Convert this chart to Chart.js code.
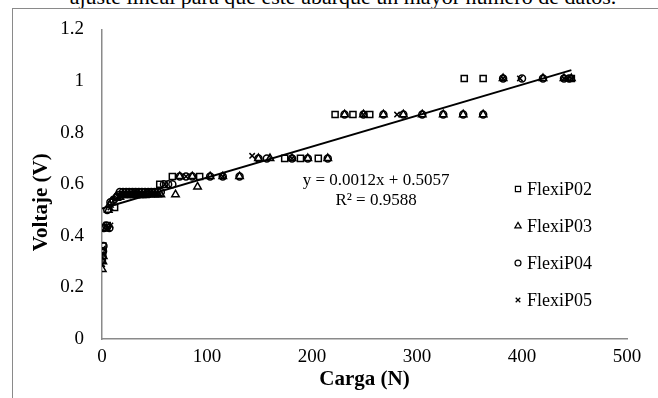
<!DOCTYPE html>
<html>
<head>
<meta charset="utf-8">
<script src="https://cdn.jsdelivr.net/npm/chart.js@4/dist/chart.umd.min.js"></script>
<style>
  html, body { margin: 0; padding: 0; background: #fff; }
  body { width: 658px; height: 398px; position: relative; overflow: hidden; }
  #caption {
    position: absolute; left: 14px; width: 658px; top: -16px;
    text-align: center; font-family: "Liberation Serif", serif; font-size: 22px;
    color: #000; white-space: nowrap; line-height: 26px;
  }
  #frame {
    position: absolute; left: 12px; top: 8px; right: -2px; bottom: -2px;
    border-left: 1px solid #8a8a8a; border-top: 1px solid #8a8a8a;
  }
  #wrap { position: absolute; left: 0; top: 0; width: 658px; height: 398px; }
</style>
</head>
<body>
<div id="caption">ajuste lineal para que este abarque un mayor número de datos.</div>
<div id="frame"></div>
<div id="wrap"><canvas id="c" width="658" height="398"></canvas></div>
<script>
// Carga (N) and voltaje (V) readings for each FlexiForce sensor
const carga02 = [0.3, 0.6, 0.9, 2, 5, 12, 15, 18, 21, 24, 27, 30, 33, 36, 39, 42, 45, 48, 55, 67, 93, 174, 189, 206, 222, 239, 255, 345, 363, 447];
const volt02  = [0.31, 0.34, 0.36, 0.43, 0.44, 0.51, 0.55, 0.56, 0.56, 0.56, 0.56, 0.56, 0.56, 0.56, 0.56, 0.56, 0.57, 0.57, 0.60, 0.63, 0.63, 0.70, 0.70, 0.70, 0.87, 0.87, 0.87, 1.01, 1.01, 1.01];

const carga03 = [0.3, 0.8, 1.2, 4, 6, 7, 9, 13, 17, 20, 23, 26, 29, 32, 35, 38, 41, 44, 47, 50, 53, 56, 70, 74, 86, 91, 103, 115, 131, 149, 160, 181, 196, 215, 231, 249, 268, 287, 305, 325, 344, 363, 382, 420, 440, 447];
const volt03  = [0.27, 0.30, 0.32, 0.43, 0.50, 0.52, 0.53, 0.55, 0.55, 0.56, 0.56, 0.56, 0.56, 0.56, 0.56, 0.56, 0.56, 0.56, 0.56, 0.56, 0.56, 0.56, 0.56, 0.63, 0.63, 0.59, 0.63, 0.63, 0.63, 0.70, 0.70, 0.70, 0.70, 0.70, 0.87, 0.87, 0.87, 0.87, 0.87, 0.87, 0.87, 0.87, 1.01, 1.01, 1.01, 1.01];

const carga04 = [0.5, 1, 1.4, 2, 4, 7, 5, 8, 11, 14, 17, 20, 23, 26, 29, 32, 35, 38, 41, 44, 47, 50, 53, 56, 59, 63, 67, 74, 80, 86, 103, 115, 131, 149, 157, 181, 196, 215, 231, 249, 268, 287, 305, 325, 344, 363, 382, 400, 420, 440, 445];
const volt04  = [0.32, 0.34, 0.36, 0.43, 0.44, 0.43, 0.50, 0.53, 0.54, 0.55, 0.57, 0.57, 0.57, 0.57, 0.57, 0.57, 0.57, 0.57, 0.57, 0.57, 0.57, 0.57, 0.57, 0.57, 0.60, 0.60, 0.60, 0.63, 0.63, 0.63, 0.63, 0.63, 0.63, 0.70, 0.70, 0.70, 0.70, 0.70, 0.87, 0.87, 0.87, 0.87, 0.87, 0.87, 0.87, 0.87, 1.01, 1.01, 1.01, 1.01, 1.01];

const carga05 = [0.2, 0.7, 1.1, 5, 8, 8, 12, 16, 20, 24, 28, 32, 36, 40, 44, 48, 60, 80, 115, 143, 181, 249, 281, 382, 398, 440, 447];
const volt05  = [0.29, 0.35, 0.33, 0.43, 0.44, 0.51, 0.54, 0.55, 0.56, 0.56, 0.56, 0.57, 0.56, 0.56, 0.56, 0.56, 0.60, 0.63, 0.63, 0.71, 0.70, 0.87, 0.87, 1.01, 1.01, 1.01, 1.01];

const seriesNames = ['FlexiP02', 'FlexiP03', 'FlexiP04', 'FlexiP05'];
const seriesStyles = ['rect', 'triangle', 'circle', 'crossRot'];

// Linear fit of all readings
const fitSlope = 0.0012;
const fitIntercept = 0.5057;
const fitR2 = 0.9588;
const fitRange = [0, 447];

const xTicks = [0, 100, 200, 300, 400, 500];
const yTicks = [0, 0.2, 0.4, 0.6, 0.8, 1, 1.2];
const xTitle = 'Carga (N)';
const yTitle = 'Voltaje (V)';

const FONT = '"Liberation Serif", "Times New Roman", serif';

function pairs(xs, ys) { return xs.map((x, i) => ({ x: x, y: ys[i] })); }

const radii = { rect: 4.3, triangle: 4.3, circle: 3.5, crossRot: 3.8 };

const pointSets = [[carga02, volt02], [carga03, volt03], [carga04, volt04], [carga05, volt05]];
const datasets = pointSets.map((p, i) => ({
  type: 'scatter',
  label: seriesNames[i],
  data: pairs(p[0], p[1]),
  pointStyle: seriesStyles[i],
  pointRadius: radii[seriesStyles[i]],
  pointBorderWidth: 1.5,
  borderColor: '#000',
  backgroundColor: 'rgba(0,0,0,0)',
  showLine: false,
  order: 2
}));

datasets.push({
  type: 'line',
  label: 'Lineal',
  data: fitRange.map(x => ({ x: x, y: fitIntercept + fitSlope * x })),
  borderColor: '#000',
  borderWidth: 2,
  pointRadius: 0,
  fill: false,
  order: 1
});

// Legend drawn inside the plot, at the right
const sideLegend = {
  id: 'sideLegend',
  afterDraw(chart) {
    const ctx = chart.ctx;
    const rows = [189, 226, 263, 300];
    ctx.save();
    ctx.font = '18px ' + FONT;
    ctx.textBaseline = 'middle';
    ctx.textAlign = 'left';
    ctx.lineWidth = 1.2;
    seriesNames.forEach((name, i) => {
      const style = seriesStyles[i];
      ctx.fillStyle = 'rgba(0,0,0,0)';
      ctx.strokeStyle = '#000';
      Chart.helpers.drawPoint(ctx, { pointStyle: style, rotation: 0, radius: radii[style] * 0.85, borderWidth: 1.2 }, 518, rows[i]);
      ctx.fillStyle = '#000';
      ctx.fillText(name, 527, rows[i] + 1);
    });
    ctx.restore();
  }
};

// Equation and R² of the fitted line, and the vertical axis title
const annotations = {
  id: 'annotations',
  afterDatasetsDraw(chart) {
    const ctx = chart.ctx;
    const xs = chart.scales.x, ys = chart.scales.y;
    const cx = xs.getPixelForValue(261);
    const cy = ys.getPixelForValue(0.614);
    ctx.save();
    ctx.font = '17px ' + FONT;
    ctx.fillStyle = '#000';
    ctx.textAlign = 'center';
    ctx.textBaseline = 'middle';
    ctx.fillText('y = ' + fitSlope.toFixed(4) + 'x + ' + fitIntercept.toFixed(4), cx, cy);
    ctx.fillText('R² = ' + fitR2.toFixed(4), cx, cy + 20);
    ctx.translate(42, ys.getPixelForValue(0.53));
    ctx.rotate(-Math.PI / 2);
    ctx.font = 'bold 21px ' + FONT;
    ctx.fillText(yTitle, 0, 0);
    ctx.restore();
  }
};

new Chart(document.getElementById('c'), {
  type: 'scatter',
  data: { datasets: datasets },
  options: {
    responsive: false,
    animation: false,
    devicePixelRatio: 1,
    layout: { padding: { left: 20, top: 28, right: 31, bottom: 0 } },
    plugins: { legend: { display: false }, tooltip: { enabled: false } },
    scales: {
      x: {
        type: 'linear',
        min: 0, max: 500,
        afterBuildTicks(scale) { scale.ticks = xTicks.map(v => ({ value: v })); },
        afterFit(scale) { scale.height = 59; },
        grid: { display: false, drawTicks: false },
        border: { display: true, color: '#8a8a8a', width: 1.5 },
        ticks: { color: '#000', font: { family: FONT, size: 19 }, padding: 7, maxRotation: 0 },
        title: { display: true, text: xTitle, color: '#000', font: { family: FONT, size: 21, weight: 'bold' }, padding: { top: 0, bottom: 6 } }
      },
      y: {
        type: 'linear',
        min: 0, max: 1.2,
        afterBuildTicks(scale) { scale.ticks = yTicks.map(v => ({ value: v })); },
        afterFit(scale) { scale.width = 82; },
        grid: { display: false, drawTicks: false },
        border: { display: true, color: '#8a8a8a', width: 1.5 },
        ticks: { color: '#000', font: { family: FONT, size: 19 }, padding: 18, callback: v => String(v) },
        title: { display: false }
      }
    }
  },
  plugins: [annotations, sideLegend]
});
</script>
</body>
</html>
